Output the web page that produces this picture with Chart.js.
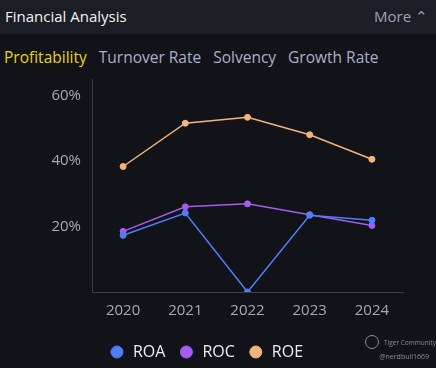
<!DOCTYPE html>
<html>
<head>
<meta charset="utf-8">
<script src="https://cdn.jsdelivr.net/npm/chart.js@4"></script>
<style>
  html, body { margin: 0; padding: 0; }
  body { width: 436px; height: 368px; background: #111318; font-family: "Open Sans", "Noto Sans", sans-serif; position: relative; overflow: hidden; }
  .head { position: absolute; left: 0; top: 0; width: 436px; height: 34px; background: #1b1e25; }
  .title { position: absolute; left: 5px; top: 6px; color: #f2f2f4; font-size: 15px; }
  .more { position: absolute; right: 8px; top: 6px; color: #9ba1b5; font-size: 15px; }
  .tabs { position: absolute; left: 4px; top: 46px; font-size: 15.5px; color: #a9b0cc; white-space: nowrap; }
  .tabs span { margin-right: 12px; }
  .tabs .on { color: #e8d41e; }
  .chartbox { position: absolute; left: 0; top: 67px; width: 436px; height: 301px; }
  .logo { position: absolute; left: 365px; top: 335px; width: 12px; height: 12px; border: 1px solid #8a8d95; border-radius: 50%; }
  .mark1 { position: absolute; left: 384px; top: 338px; color: #8a8d95; font-size: 6.5px; }
  .mark2 { position: absolute; right: 7px; top: 352px; color: #8a8d95; font-size: 7px; }
</style>
</head>
<body>
<div class="head">
  <div class="title">Financial Analysis</div>
  <div class="more">More &#8963;</div>
</div>
<div class="tabs"><span class="on">Profitability</span><span>Turnover Rate</span><span>Solvency</span><span>Growth Rate</span></div>
<div class="chartbox"><canvas id="myChart"></canvas></div>
<div class="logo"></div>
<div class="mark1">Tiger Community</div>
<div class="mark2">@nerdbull1669</div>
<script>
let years = ['2020', '2021', '2022', '2023', '2024'];
let roa = [17.3, 24.1, 0, 23.4, 21.9];
let roc = [18.5, 26.0, 26.9, 23.6, 20.3];
let roe = [38.3, 51.5, 53.3, 48.0, 40.5];
let yTicks = [20, 40, 60];

let ctx = document.getElementById('myChart').getContext('2d');

let chart = new Chart(ctx, {
  type: 'line',
  data: {
    labels: years,
    datasets: [
      { label: 'ROA', data: roa, borderColor: '#4f7ff7', backgroundColor: '#4f7ff7' },
      { label: 'ROC', data: roc, borderColor: '#a45cf0', backgroundColor: '#a45cf0' },
      { label: 'ROE', data: roe, borderColor: '#f0b47e', backgroundColor: '#f0b47e' }
    ]
  },
  options: {
    responsive: true,
    maintainAspectRatio: false,
    animation: false,
    elements: {
      line: { borderWidth: 1.5, tension: 0 },
      point: { radius: 3, hoverRadius: 3 }
    },
    layout: { padding: { left: 9, right: 33, top: 0, bottom: -2 } },
    scales: {
      x: {
        offset: true,
        grid: { display: false },
        border: { display: true, color: '#3a3d46', width: 1 },
        afterFit: (s) => { s.height += 9; },
        ticks: { color: '#a6a9b4', font: { size: 15, family: 'Open Sans' }, padding: 2 }
      },
      y: {
        min: 0,
        max: 65,
        grid: { display: false },
        border: { display: true, color: '#3a3d46', width: 1 },
        afterFit: (s) => { s.width = 83; },
        afterBuildTicks: (s) => { s.ticks = yTicks.map(v => ({ value: v })); },
        ticks: {
          color: '#a6a9b4',
          font: { size: 15, family: 'Open Sans' },
          padding: 3,
          callback: (v) => v + '%'
        }
      }
    },
    plugins: {
      legend: {
        position: 'bottom',
        labels: {
          usePointStyle: true,
          pointStyle: 'circle',
          boxWidth: 16,
          boxHeight: 8.5,
          padding: 13,
          color: '#eceef2',
          font: { size: 16, family: 'Open Sans' }
        }
      },
      tooltip: { enabled: false }
    }
  }
});
</script>
</body>
</html>
